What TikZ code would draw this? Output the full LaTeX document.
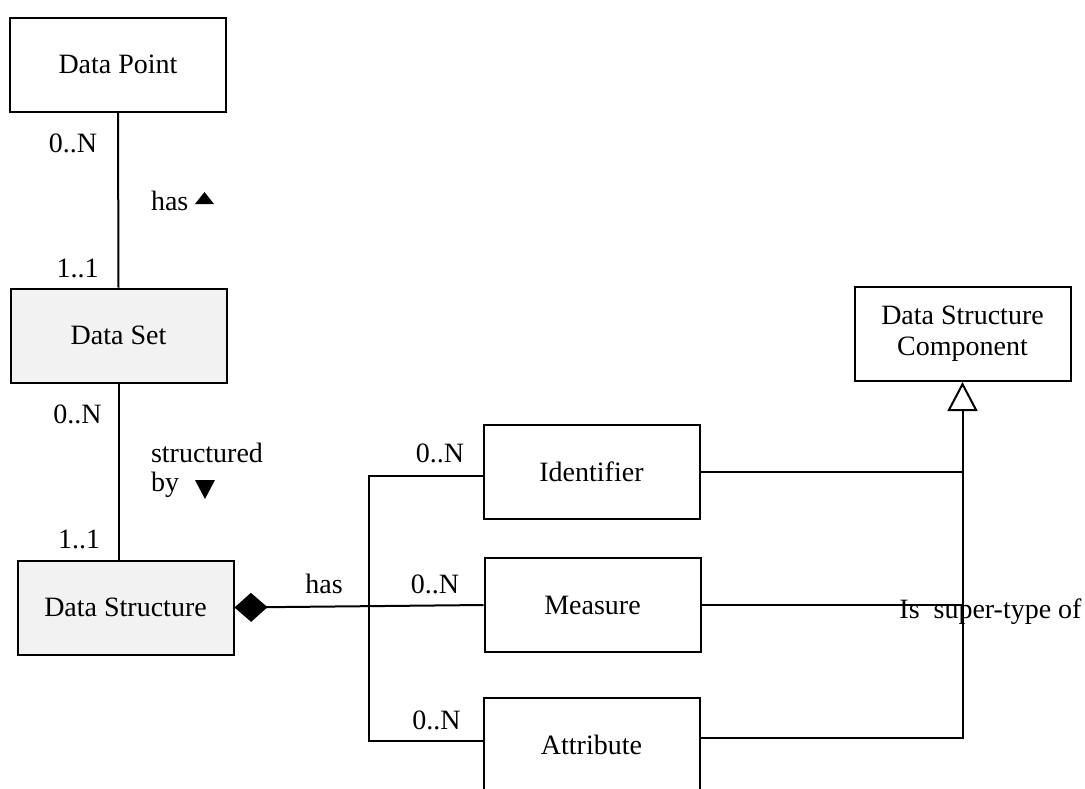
\documentclass[tikz,border=0pt]{standalone}
\usepackage{fontspec}
\setmainfont{Liberation Serif}
\usetikzlibrary{arrows.meta}
\definecolor{boxgray}{HTML}{F2F2F2}
\begin{document}
\begin{tikzpicture}[x=1pt, y=-1pt,
  font=\fontsize{28}{31}\selectfont,
  line width=2pt,
  entity/.style={draw, minimum width=216pt, minimum height=94pt, inner sep=0pt, align=center},
  shaded/.style={entity, fill=boxgray},
  lbl/.style={anchor=base, inner sep=0pt},
  lblw/.style={anchor=base west, inner sep=0pt},
  composition/.style={{Diamond[length=33pt, width=29pt]}-},
  generalization/.style={-{Triangle[open, length=29pt, width=30pt, fill=white]}}]
\useasboundingbox (0,0) rectangle (1085,788);
\clip (0,0) rectangle (1085,788);

% classes
\node[entity] (dp)   at (118,64.5)  {Data Point};
\node[shaded] (dset) at (118.5,335.5) {Data Set};
\node[shaded] (dstr) at (125.5,607.5) {Data Structure};
\node[entity] (dsc)  at (962.5,334) {Data Structure\\Component};
\node[entity] (id)   at (591.5,472) {Identifier};
\node[entity] (meas) at (592.5,605) {Measure};
\node[entity] (attr) at (591.5,745) {Attribute};

% Data Point -- Data Set
\draw (dp.south) -- (dset.north);
\node[lbl] (dpm) at (73,152) {0..N};
\node[lbl] (dsm) at (77.5,277) {1..1};
\node[lblw] (has1) at (150,210) {has};
\fill (195,204) -- (214,204) -- (204.5,192) -- cycle;

% Data Set -- Data Structure
\draw (dset.south) -- (dset.south |- dstr.north);
\node[lbl] (dsetm) at (77.5,423) {0..N};
\node[lbl] (dstrm) at (79,548) {1..1};
\node[lblw] (sb1) at (150,462) {structured};
\node[lblw] (sb2) at (150,491) {by};
\fill (195,480) -- (215,480) -- (205,499) -- cycle;

% composition of the components
\coordinate (bus) at (369,0);
\coordinate (idl) at ([yshift=-4pt]id.west);
\coordinate (attrl) at ([yshift=4pt]attr.west);
\draw[composition] (dstr.east) -- (meas.west);
\draw (idl) -- (idl -| bus) -- (attrl -| bus) -- (attrl);
\node[lbl] (has2) at (324,593) {has};
\node[lbl] (idm)   at (440,462) {0..N};
\node[lbl] (measm) at (435,593) {0..N};
\node[lbl] (attrm) at (436.5,729) {0..N};

% generalization
\coordinate (attrr) at ([yshift=7pt]attr.east);
\draw (id.east) -- (id.east -| dsc.south);
\draw (meas.east) -- (meas.east -| dsc.south);
\draw[generalization, line join=miter] (attrr) -- (attrr -| dsc.south) -- (dsc.south);
\node[lbl] (super) at (990.5,618) {Is\ \ super-type of};
\end{tikzpicture}
\end{document}
